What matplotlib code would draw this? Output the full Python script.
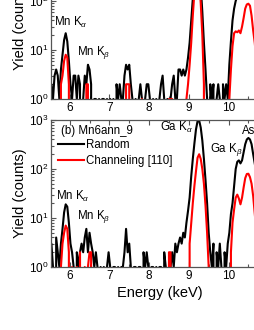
import numpy as np
import matplotlib
matplotlib.use("Agg")
import matplotlib.pyplot as plt
from matplotlib.ticker import LogLocator, MultipleLocator, NullFormatter

plt.rcParams['font.family'] = ['Liberation Sans', 'DejaVu Sans']
plt.rcParams['mathtext.fontset'] = 'custom'
plt.rcParams['mathtext.rm'] = 'Liberation Sans'
plt.rcParams['mathtext.it'] = 'Liberation Sans:italic'
plt.rcParams['mathtext.bf'] = 'Liberation Sans:bold'

# channel energies (keV), 0.04 keV per channel
energy = np.round(5.50 + 0.04 * np.arange(138), 2)

# top panel (a) - counts per channel
top_random = [
    1, 2, 1, 3, 4, 3, 1, 4, 8, 16, 22, 15, 6, 2, 1, 3, 3, 1, 3, 2,
    0, 1, 3, 2, 5, 4, 2, 0, 1, 1, 0, 1, 0, 1, 1, 0, 1, 0, 1, 0,
    1, 0, 2, 1, 2, 1, 1, 3, 5, 4, 5, 2, 1, 0, 1, 0, 1, 2, 1, 0,
    1, 2, 2, 1, 0, 1, 0, 1, 0, 1, 2, 3, 1, 0, 1, 0, 1, 2, 3, 1,
    1, 4, 4, 3, 4, 3, 4, 7, 14, 40, 110, 350, 800, 1000, 700, 200, 60, 14, 4, 1,
    0, 2, 1, 2, 0, 1, 2, 1, 0, 2, 1, 2, 1, 5, 15, 40, 70, 100, 125, 130,
    110, 135, 200, 300, 420, 480, 440, 330, 210, 130, 80, 40, 15, 6, 3, 2, 1, 1,
]
top_channeling = [
    0, 0, 0, 0, 0, 0, 0, 2, 3, 6, 8, 7, 2, 0, 0, 0, 0, 0, 0, 0,
    0, 0, 0, 2, 2, 0, 0, 0, 0, 0, 0, 0, 0, 0, 0, 0, 0, 0, 0, 0,
    0, 0, 0, 0, 0, 0, 0, 0, 2, 2, 2, 0, 0, 0, 0, 0, 0, 0, 1, 0,
    0, 0, 0, 0, 0, 0, 0, 0, 0, 0, 0, 0, 0, 0, 0, 1, 1, 1, 0, 0,
    0, 0, 0, 0, 0, 0, 1, 2, 5, 14, 50, 150, 350, 450, 280, 90, 20, 2, 0, 0,
    0, 0, 0, 0, 0, 0, 0, 0, 0, 0, 0, 0, 0, 1, 4, 12, 22, 24, 23, 25,
    22, 30, 45, 70, 85, 88, 80, 50, 25, 14, 6, 2, 1, 0, 0, 0, 0, 0,
]

# bottom panel (b) Mn6ann_9
bot_random = [
    2, 3, 1, 0, 4, 2, 1, 3, 6, 13, 19, 17, 8, 3, 2, 1, 0, 2, 1, 2,
    3, 2, 4, 6, 2, 5, 3, 2, 1, 2, 1, 0, 1, 0, 1, 0, 1, 2, 1, 0,
    1, 1, 0, 1, 0, 1, 1, 2, 6, 2, 3, 1, 0, 1, 1, 0, 1, 1, 0, 2,
    1, 2, 1, 0, 1, 1, 0, 1, 0, 1, 1, 0, 2, 1, 0, 1, 1, 2, 1, 3,
    2, 3, 4, 3, 5, 4, 8, 14, 26, 70, 160, 330, 640, 950, 980, 700, 380, 160, 60, 20,
    5, 2, 1, 3, 0, 2, 1, 3, 1, 0, 2, 1, 3, 5, 12, 20, 45, 100, 140, 150,
    130, 150, 220, 320, 400, 430, 400, 320, 200, 130, 80, 40, 15, 6, 3, 2, 1, 1,
]
bot_channeling = [
    0, 0, 0, 0, 0, 0, 0, 1, 3, 5, 7, 6, 2, 0, 1, 0, 0, 1, 0, 2,
    0, 0, 1, 0, 1, 2, 2, 0, 0, 0, 0, 0, 0, 0, 0, 0, 0, 0, 0, 0,
    0, 0, 0, 0, 0, 0, 0, 0, 0, 0, 0, 0, 0, 0, 0, 0, 0, 0, 0, 0,
    0, 0, 0, 0, 0, 0, 0, 0, 0, 0, 0, 0, 0, 0, 0, 2, 2, 0, 0, 0,
    0, 0, 0, 0, 0, 0, 0, 0, 3, 8, 20, 45, 90, 170, 200, 160, 100, 50, 18, 5,
    1, 0, 0, 0, 0, 0, 0, 0, 0, 0, 0, 0, 0, 0, 2, 8, 15, 26, 30, 25,
    19, 26, 42, 65, 79, 80, 68, 50, 28, 12, 6, 2, 1, 0, 0, 0, 0, 0,
]

labels = ["Random", "Channeling [110]"]
tick_e = [6, 7, 8, 9, 10]

fig = plt.figure(figsize=(2.55, 3.3), dpi=100)
ax_top = fig.add_axes([0.2, 0.70, 0.852, 0.4455])
ax_bot = fig.add_axes([0.2, 0.1909, 0.852, 0.4455])

spine_col = "#555555"
for ax, rnd, chn in [(ax_top, top_random, top_channeling), (ax_bot, bot_random, bot_channeling)]:
    ax.plot(energy, rnd, color="black", lw=1.5, label=labels[0])
    ax.plot(energy, chn, color="red", lw=1.5, label=labels[1])
    ax.set_yscale("log")
    ax.set_ylim(1, 1000)
    ax.set_xlim(5.53, 11.0)
    ax.set_xticks(tick_e)
    ax.xaxis.set_minor_locator(MultipleLocator(0.5))
    ax.yaxis.set_major_locator(LogLocator(base=10, numticks=10))
    ax.yaxis.set_minor_locator(LogLocator(base=10, subs=np.arange(2, 10), numticks=10))
    ax.yaxis.set_minor_formatter(NullFormatter())
    ax.tick_params(which="both", direction="in", top=True, right=True,
                   color=spine_col, width=0.8, labelsize=8.5, pad=2)
    ax.tick_params(which="major", length=3.5)
    ax.tick_params(which="minor", length=2)
    for s in ax.spines.values():
        s.set_color(spine_col)
        s.set_linewidth(0.9)
    ax.set_ylabel("Yield (counts)", fontsize=10.5, labelpad=1)

ax_bot.set_xlabel("Energy (keV)", fontsize=10.5, labelpad=3)

fs = 8.3
# top panel labels
ax_top.text(5.61, 36, r"Mn K$_\alpha$", fontsize=fs, va="center")
ax_top.text(6.18, 8.7, r"Mn K$_\beta$", fontsize=fs, va="center")

# bottom panel labels
ax_bot.text(5.78, 600, "(b) Mn6ann_9", fontsize=fs, va="center")
ax_bot.text(9.1, 700, r"Ga K$_\alpha$", fontsize=fs, va="center", ha="right")
ax_bot.text(9.53, 245, r"Ga K$_\beta$", fontsize=fs, va="center")
ax_bot.text(10.33, 590, "As", fontsize=fs, va="center")
ax_bot.text(5.66, 28, r"Mn K$_\alpha$", fontsize=fs, va="center")
ax_bot.text(6.18, 10.7, r"Mn K$_\beta$", fontsize=fs, va="center")
ax_bot.legend(loc="upper left", bbox_to_anchor=(0.03, 0.872), frameon=False,
              fontsize=fs, handlelength=2.3, handletextpad=0.2,
              labelspacing=0.4, borderpad=0, borderaxespad=0)

fig.savefig("out.png", dpi=100)
